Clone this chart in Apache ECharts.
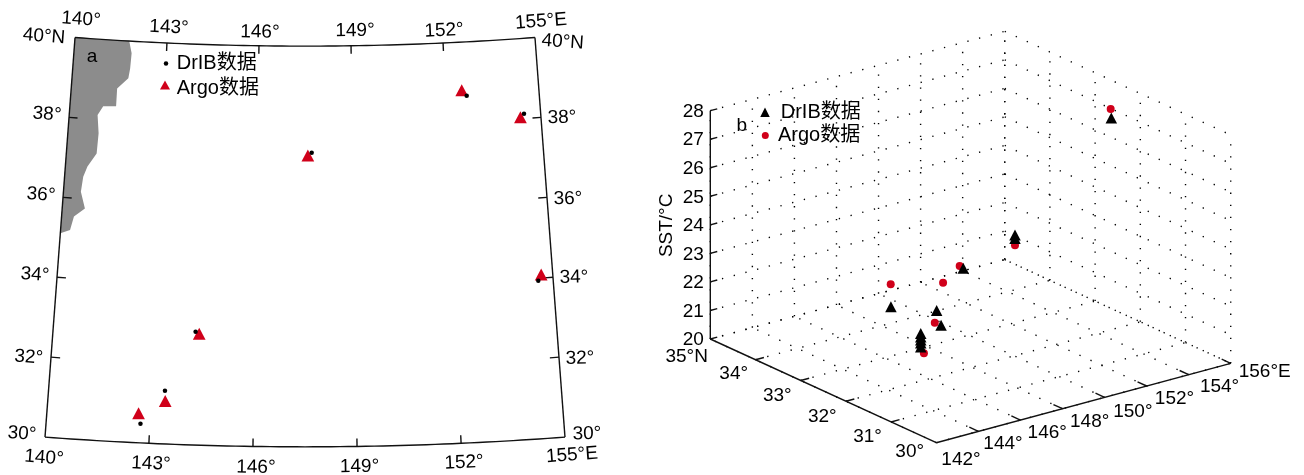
<!DOCTYPE html>
<html><head><meta charset="utf-8">
<style>html,body{margin:0;padding:0;background:#fff}#c{width:1304px;height:475px}</style>
<script src="https://cdn.jsdelivr.net/npm/echarts@6/dist/echarts.min.js"></script>
</head><body><div id="c"></div>
<script>
// ---------- Panel a data (lon, lat) ----------
const mapDrifterLon = [142.73,143.40,144.24,147.71,152.68,154.47,154.55];
const mapDrifterLat = [30.48,31.33,32.83,37.34,38.66,38.12,33.94];
const mapArgoLon = [142.66,143.42,144.35,147.59,152.53,154.35,154.65];
const mapArgoLat = [30.74,31.07,32.78,37.27,38.80,38.04,34.09];
const coastLon = [141.77,141.87,141.85,141.81,141.47,141.47,141.06,140.90,140.97,140.95,140.69,140.58,140.54,140.70,140.38,140.29,140.00];
const coastLat = [40.00,39.70,39.32,39.07,38.80,38.36,38.34,38.11,37.66,37.15,36.81,36.55,36.17,35.76,35.54,35.20,35.10];
const mapLonTicks = [143,146,149,152];
const mapLatTicks = [32,34,36,38];
const mapLonLabelsTop = [['140°',140,6,-19.5],['143°',143,2,-17],['146°',146,1,-15],['149°',149,4,-16.5],['152°',152,1,-14],['155°E',155,6,-17.5]];
const mapLonLabelsBottom = [['140°',140,-1,19.3],['143°',143,2,19],['146°',146,3,19.5],['149°',149,2.5,18.8],['152°',152,3,17.7],['155°E',155,7,16.6]];
const mapLatLabelsLeft = [['40°N',40,-31,-2.5],['38°',38,-22,-4.6],['36°',36,-22,-4],['34°',34,-22,-4],['32°',32,-22.3,-1.3],['30°',30,-23,-4.7]];
const mapLatLabelsRight = [['40°N',40,27.7,3],['38°',38,21,-1.3],['36°',36,21,0],['34°',34,21,-1.2],['32°',32,21,-0.3],['30°',30,22,-4.7]];

// ---------- Panel b data (lon, lat, SST) ----------
const sstDrifterLon = [154.62,152.19,152.19,149.73,147.39,147.60,146.29,143.41,143.41,143.41,143.41,143.41];
const sstDrifterLat = [32,33,33,33,32.5,32.5,33,31,31,31,31,31];
const sstDrifterVal = [27.42,23.07,22.95,22.40,21.74,21.19,21.73,22.82,22.70,22.59,22.49,22.35];
const sstArgoLon = [154.59,152.19,149.56,148.77,147.30,146.28,143.56];
const sstArgoLat = [32,33,33,33,32.5,33,31];
const sstArgoVal = [27.74,22.71,22.51,22.08,21.33,22.52,22.10];
const boxLon = [142,144,146,148,150,152,154,156];
const boxLat = [30,31,32,33,34,35];
const boxSst = [20,21,22,23,24,25,26,27,28];
const boxSstLabels = ['20','21','22','23','24','25','26','27','28'];
const boxLonLabels = [['142°',142,24.7,15.3],['144°',144,24.6,11.3],['146°',146,26.8,11.7],['148°',148,27.2,12],['150°',150,28.3,13.4],['152°',152,27.9,11.7],['154°',154,30.9,10.3],['156°E',156,34,6.7]];
const boxLatLabels = [['30°',30,-26.6,8],['31°',31,-23.5,13.7],['32°',32,-23.6,13.8],['33°',33,-23.4,13.5],['34°',34,-21.8,13],['35°N',35,-23.6,16.7]];

const FONT = '"Liberation Sans","Noto Sans CJK SC",sans-serif';
const FS = 19;
const RED = '#d0001a';
const TEXT_BASELINE_SHIFT = 1.5;

// conic projection for panel a (plane units = degrees of latitude)
function cone(lon, lat){
  const r = 86.594 - (lat - 30), t = 0.01 * (lon - 147.5);
  return [r * Math.sin(t), -r * Math.cos(t)];
}
// fixed oblique view for panel b (plane units = screen units of the view)
function view(lon, lat, z){
  return [21.03*(lon-142) - 45.2*(lat-30), 5.671*(lon-142) + 20.74*(lat-30) + 28.54*(z-20)];
}
function range(a,b,n){ const o=[]; for(let i=0;i<=n;i++) o.push(a+(b-a)*i/n); return o; }

function polySeries(name, grid, polys, style, fill){
  return {
    type:'custom', name, coordinateSystem:'cartesian2d', xAxisIndex:grid, yAxisIndex:grid, silent:true, clip:false,
    data: polys.map(p=>p[0]),
    renderItem:(params, api)=>{
      const pts = polys[params.dataIndex].map(p=>api.coord(p));
      return {type: fill?'polygon':'polyline', shape:{points:pts}, style: Object.assign({fill: fill||null}, style)};
    }
  };
}
function textSeries(name, grid, items){
  return {
    type:'custom', name, coordinateSystem:'cartesian2d', xAxisIndex:grid, yAxisIndex:grid, silent:true, clip:false,
    data: items.map(i=>i.at),
    renderItem:(params, api)=>{
      const it = items[params.dataIndex], c = api.coord(it.at);
      return {type:'text', x:c[0]+(it.dx||0)+(it.sx||0), y:c[1]+(it.dy||0)+(it.sx?0:TEXT_BASELINE_SHIFT), rotation:it.rot||0,
        style:{text:it.text, fill:'#000', font:FS+'px '+FONT, align:'center', verticalAlign:'middle'}};
    }
  };
}

// ----- panel a geometry -----
const frameA = [
  range(140,155,60).map(l=>cone(l,40)),
  range(140,155,60).map(l=>cone(l,30)),
  [cone(140,30),cone(140,40)],
  [cone(155,30),cone(155,40)]
];
const ticksA = [];
mapLonTicks.forEach(l=>{ ticksA.push([cone(l,40),cone(l,39.8)]); ticksA.push([cone(l,30),cone(l,30.2)]); });
mapLatTicks.concat().forEach(l=>{ ticksA.push([cone(140,l),cone(140.27,l)]); ticksA.push([cone(155,l),cone(154.73,l)]); });
const land = range(140,141.77,8).map(l=>cone(l,40))
  .concat(coastLon.map((l,i)=>cone(l,coastLat[i])));
const textA = [];
mapLonLabelsTop.forEach(a=>textA.push({text:a[0],at:cone(a[1],40),dx:a[2],dy:a[3],rot:0.01*(a[1]-147.5)}));
mapLonLabelsBottom.forEach(a=>textA.push({text:a[0],at:cone(a[1],30),dx:a[2],dy:a[3],rot:0.01*(a[1]-147.5)}));
mapLatLabelsLeft.forEach(a=>textA.push({text:a[0],at:cone(140,a[1]),dx:a[2],dy:a[3],rot:-0.075}));
mapLatLabelsRight.forEach(a=>textA.push({text:a[0],at:cone(155,a[1]),dx:a[2],dy:a[3],rot:a[0]==='40°N'?-0.07:0.02}));
textA.push({text:'a',at:cone(140,40),dx:17,dy:18});

// ----- panel b geometry -----
const L0=142,L1=156,P0=30,P1=35,Z0=20,Z1=28;
const dots = [];
boxSst.forEach(z=>{ dots.push([view(L0,P1,z),view(L1,P1,z)]); dots.push([view(L1,P1,z),view(L1,P0,z)]); });
boxLon.forEach(l=>{ dots.push([view(l,P1,Z0),view(l,P1,Z1)]); dots.push([view(l,P0,Z0),view(l,P1,Z0)]); });
boxLat.forEach(p=>{ dots.push([view(L1,p,Z0),view(L1,p,Z1)]); dots.push([view(L0,p,Z0),view(L1,p,Z0)]); });
const axesB = [
  [view(L0,P1,Z0),view(L0,P1,Z1)],
  [view(L0,P1,Z0),view(L0,P0,Z0)],
  [view(L0,P0,Z0),view(L1,P0,Z0)]
];
const ticksB = [];
boxSst.forEach(z=>ticksB.push([view(L0,P1,z),view(L0+0.33,P1,z)]));
boxLat.slice(1,5).forEach(p=>ticksB.push([view(L0,p,Z0),view(L0+0.4,p,Z0)]));
boxLon.slice(1).forEach(l=>ticksB.push([view(l,P0,Z0),view(l,P0+0.2,Z0)]));
const textB = [];
boxSst.forEach((z,i)=>textB.push({text:boxSstLabels[i],at:view(L0,P1,z),dx:-17,dy:-0.5}));
boxLonLabels.forEach(a=>textB.push({text:a[0],at:view(a[1],P0,Z0),dx:a[2],dy:a[3]}));
boxLatLabels.forEach(a=>textB.push({text:a[0],at:view(L0,a[1],Z0),dx:a[2],dy:a[3]}));
textB.push({text:'b',at:view(L0,P1,Z1),dx:31.5,dy:13.3});
textB.push({text:'SST/°C',at:view(L0,P1,24),dx:-45,dy:0.5,rot:Math.PI/2,sx:1.5});

const mkLegend = (name,icon,left,top,w,h,pad)=>({orient:'horizontal',padding:0,selectedMode:false,
  data:[{name,icon}],left,top,itemWidth:w,itemHeight:h,
  textStyle:{color:'#000',fontSize:20,fontFamily:FONT,padding:pad}});

const solid = {stroke:'#111',lineWidth:1.4};
const option = {
  animation:false,
  backgroundColor:'#fff',
  grid:[
    {left:0,top:0,width:620,height:475},
    {left:640,top:0,width:664,height:475}
  ],
  xAxis:[
    {type:'value',gridIndex:0,show:false,min:-7.6116,max:7.8612},
    {type:'value',gridIndex:1,show:false,min:-296.3,max:367.7}
  ],
  yAxis:[
    {type:'value',gridIndex:0,show:false,min:-87.297,max:-75.443},
    {type:'value',gridIndex:1,show:false,min:-32.3,max:442.7}
  ],
  legend:[
    mkLegend('DrIB数据','circle',163.75,53.5,4.5,4.5,[0,0,0,3.45]),
    mkLegend('Argo数据','path://M5 0L10 9H0Z M5 16',160,78.5,10,16,[0,0,0,1.7]),
    mkLegend('DrIB数据','triangle',760.25,102.2,9.5,9.5,[0,0,0,6]),
    mkLegend('Argo数据','circle',761.8,125.5,7,7,[0,0,0,4.2])
  ],
  series:[
    polySeries('land',0,[land],{stroke:'none'},'#8c8c8c'),
    polySeries('frameA',0,frameA,solid),
    polySeries('ticksA',0,ticksA,solid),
    textSeries('textA',0,textA),
    {type:'scatter',name:'Argo数据',xAxisIndex:0,yAxisIndex:0,symbol:'triangle',symbolSize:[12.7,12],
      itemStyle:{color:RED,opacity:1},
      data:mapArgoLon.map((l,i)=>cone(l,mapArgoLat[i]))},
    {type:'scatter',name:'DrIB数据',xAxisIndex:0,yAxisIndex:0,symbol:'circle',symbolSize:4.5,
      itemStyle:{color:'#000',opacity:1},
      data:mapDrifterLon.map((l,i)=>cone(l,mapDrifterLat[i]))},
    polySeries('grid3d',1,dots,{stroke:'#000',lineWidth:1.4,lineDash:[1.3,10.8]}),
    polySeries('axesB',1,axesB,solid),
    polySeries('ticksB',1,ticksB,solid),
    textSeries('textB',1,textB),
    {type:'scatter',name:'Argo数据',xAxisIndex:1,yAxisIndex:1,symbol:'circle',symbolSize:8,
      itemStyle:{color:RED,opacity:1},
      data:sstArgoLon.map((l,i)=>view(l,sstArgoLat[i],sstArgoVal[i]))},
    {type:'scatter',name:'DrIB数据',xAxisIndex:1,yAxisIndex:1,symbol:'triangle',symbolSize:[11.5,11],
      itemStyle:{color:'#000',opacity:1},
      data:sstDrifterLon.map((l,i)=>view(l,sstDrifterLat[i],sstDrifterVal[i]))}
  ]
};
echarts.init(document.getElementById('c'),null,{renderer:'canvas'}).setOption(option);
</script></body></html>
